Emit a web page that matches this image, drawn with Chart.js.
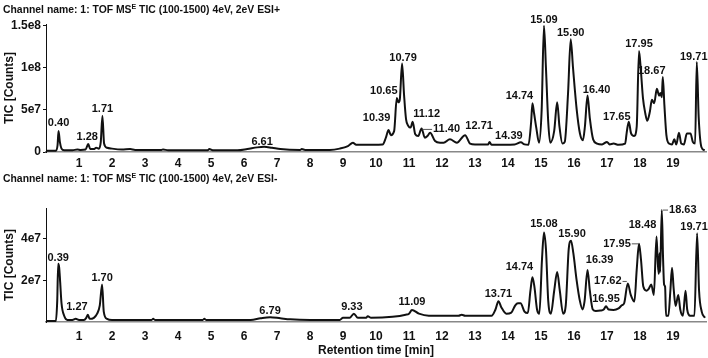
<!DOCTYPE html>
<html>
<head>
<meta charset="utf-8">
<script src="https://cdn.jsdelivr.net/npm/chart.js@4.4.0/dist/chart.umd.min.js"></script>
<style>
body{margin:0;background:#fff;width:708px;height:358px;overflow:hidden;position:relative;font-family:"Liberation Sans",Arial,sans-serif}
.box{position:absolute;left:0;width:708px}
.ttl{position:absolute;left:3px;font-weight:bold;font-size:10.4px;line-height:13px;color:#111;white-space:nowrap}
.ttl span{font-size:7px;vertical-align:4px}
</style>
</head>
<body>
<div class="box" style="top:0;height:172px"><canvas id="posChart"></canvas></div>
<div class="box" style="top:170px;height:188px"><canvas id="negChart"></canvas></div>
<div class="ttl" style="top:0">Channel name: 1: TOF MS<span>E</span> TIC (100-1500) 4eV, 2eV ESI+</div>
<div class="ttl" style="top:169px">Channel name: 1: TOF MS<span>E</span> TIC (100-1500) 4eV, 2eV ESI-</div>
<script>
// ESI+ trace, retention time [min] and TIC in millions of counts
var posTime = [
	0.03,0.30,0.35,0.38,0.42,0.47,0.55,0.80,0.95,1.05,
	1.20,1.28,1.34,1.45,1.52,1.60,1.66,1.71,1.76,1.85,
	2.00,2.30,2.55,2.70,3.50,3.55,3.70,4.90,4.95,5.05,
	5.80,6.10,6.40,6.61,6.85,7.10,7.70,7.75,7.85,8.60,
	8.90,9.15,9.30,9.40,9.55,10.20,10.30,10.38,10.45,10.55,
	10.63,10.68,10.72,10.79,10.85,10.91,10.98,11.05,11.11,11.19,
	11.28,11.38,11.48,11.56,11.64,11.79,11.94,12.05,12.24,12.45,
	12.70,12.85,13.00,13.40,13.44,13.50,14.20,14.39,14.50,14.62,
	14.70,14.74,14.79,14.86,14.94,15.02,15.09,15.15,15.22,15.28,
	15.40,15.49,15.56,15.65,15.72,15.82,15.90,15.97,16.08,16.18,
	16.27,16.33,16.41,16.48,16.58,16.70,16.85,17.00,17.08,17.20,
	17.35,17.55,17.60,17.66,17.73,17.82,17.90,17.97,18.03,18.09,
	18.16,18.22,18.30,18.36,18.43,18.51,18.58,18.62,18.66,18.69,
	18.74,18.80,18.88,18.97,19.04,19.10,19.18,19.25,19.33,19.42,
	19.53,19.60,19.67,19.72,19.78,19.86,19.96
];
var posTic = [
	1.5,1.5,8,25,12,4,2,2,3,2.5,
	3,9.5,3.5,3.5,5,4,12,43,10,5,
	4,3,3.5,2.5,2.5,3,2,2,3.5,2,
	2,3.5,5.5,6.2,5,3.5,2.5,3.5,2.5,2.5,
	4,7,11,8.5,8.5,9,17,26,20,25,
	64,59,62,105,68,39,31,29,36,21,
	19,28,17,19,23,13,11,11,15,11,
	20,10,9,9,12,8.5,9,11.5,9,8.5,
	35,58,46,28,11,50,150,100,35,11,
	25,59,30,10,12,70,134,100,51,22,
	14,30,67,40,15,10,9,12,9,10,
	8.5,10,24,36,22,19,30,120,95,64,
	46,37,48,62,58,75,67,70,65,89,
	55,20,10,9,15,9,23,10,9,22,
	22,12,10,107,40,6,2
];

// ESI- trace
var negTime = [
	0.03,0.30,0.34,0.37,0.40,0.43,0.47,0.55,0.65,0.80,
	0.90,1.00,1.15,1.22,1.27,1.32,1.45,1.55,1.63,1.70,
	1.75,1.85,2.00,3.20,3.25,3.30,4.75,4.80,4.85,6.20,
	6.50,6.79,7.10,7.40,8.00,8.90,9.00,9.20,9.33,9.45,
	9.70,9.75,9.85,10.50,10.90,11.00,11.09,11.30,11.60,12.50,
	12.60,12.70,13.50,13.62,13.71,13.80,13.95,14.10,14.22,14.30,
	14.38,14.50,14.60,14.68,14.74,14.80,14.88,14.95,15.03,15.09,
	15.15,15.22,15.30,15.40,15.49,15.57,15.67,15.75,15.84,15.91,
	15.98,16.08,16.18,16.26,16.32,16.41,16.48,16.57,16.66,16.80,
	16.90,16.97,17.05,17.20,17.35,17.45,17.52,17.63,17.72,17.83,
	17.90,17.97,18.03,18.10,18.20,18.27,18.34,18.42,18.50,18.54,
	18.57,18.59,18.61,18.66,18.70,18.73,18.76,18.79,18.86,18.92,
	18.97,19.02,19.08,19.16,19.22,19.30,19.38,19.43,19.52,19.65,
	19.73,19.79,19.87,19.97
];
var negTic = [
	0.5,0.5,10,28,26,19,9,3,1,1,
	1.5,1,1,2,3.5,1.5,2,4,8,18,
	5,1.5,1,1,1.5,1,1,1.5,1,1,
	1.8,2.3,1.8,1.3,1,1,2,2,4,2,
	2,2.8,2,2.5,3.5,4,5.8,4,3,3,
	3.5,3,3,6,10,7,4,4.5,8,9,
	9,5,4.3,15,21.5,17,6,4,30,43,
	35,10,4,15,24,15,4,8,35,39,
	33,20,10,6,10,25,15,6,5.3,5.5,
	6,7.5,6,5.8,6.5,8,9,18.5,13,9.8,
	25,37.5,30,17,15,16,18,13,41,28,
	23,33,24,53.7,30,18,17,3,3,15,
	26,16,7.7,13,6,3,15,6,3,3,
	42.6,15,5,2
];

// labelled peaks (retention times)
var posPeaks = [0.40,1.28,1.71,6.61,10.39,10.65,10.79,11.12,11.40,12.71,14.39,14.74,15.09,15.90,16.40,17.65,17.95,18.67,19.71];
var negPeaks = [0.39,1.27,1.70,6.79,9.33,11.09,13.71,14.74,15.08,15.90,16.39,16.95,17.62,17.95,18.48,18.63,19.71];

var xTickLabels = [1,2,3,4,5,6,7,8,9,10,11,12,13,14,15,16,17,18,19];
var posYTicks = [0, 5e7, 1e8, 1.5e8];
var posYTickLabels = ['0','5e7','1e8','1.5e8'];
var negYTicks = [2e7, 4e7];
var negYTickLabels = ['2e7','4e7'];

// label placement (px from the apex) and leader lines
var posLabelShift = [[0,-8],[-1,-7],[0,-7],[-2,-5],[-12,-12],[-13,-7],[1,-6],[14,-8],[25,1],[14,-9],[-12,-6],[-13,-7],[0,-6],[0,-6],[9,-6],[-12,-5],[0,-7],[-11,-6],[-3,-5]];
var posLeader = [8];
var negLabelShift = [[0,-6],[-11,-8],[0,-7],[0,-6],[-2,-7],[0,-8],[0,-7],[-13,-10],[0,-8],[1,-7],[12,-10],[0,-7],[-20,-2],[-22,0],[-14,-12],[21,0],[-3,-6]];
var negLeader = [12,13,15];

var FONT = '"Liberation Sans", Arial, sans-serif';
Chart.defaults.font.family = FONT;
Chart.defaults.font.weight = 'bold';
Chart.defaults.font.size = 11;
Chart.defaults.color = '#111';

function toPoints(t, v){
	var pts = [];
	for (var i = 0; i < t.length; i++) pts.push({x: t[i], y: v[i] * 1e6});
	return pts;
}

function peakLabels(times, vals, peaks, shift, leaders){
	return {
		id: 'peakLabels',
		afterDatasetsDraw: function(chart){
			var ctx = chart.ctx, xs = chart.scales.x, ys = chart.scales.y;
			ctx.save();
			ctx.font = 'bold 11px ' + FONT;
			ctx.fillStyle = '#111';
			ctx.textAlign = 'center';
			ctx.textBaseline = 'middle';
			for (var i = 0; i < peaks.length; i++){
				// apex = highest point close to the labelled time
				var best = -1;
				for (var j = 0; j < times.length; j++){
					if (Math.abs(times[j] - peaks[i]) <= 0.045 && (best < 0 || vals[j] > vals[best])) best = j;
				}
				var px = xs.getPixelForValue(times[best]);
				var py = ys.getPixelForValue(vals[best] * 1e6);
				var tx = px + shift[i][0], ty = py + shift[i][1];
				var txt = peaks[i].toFixed(2);
				ctx.fillText(txt, tx, ty);
				if (leaders.indexOf(i) >= 0){
					var w = ctx.measureText(txt).width / 2;
					ctx.strokeStyle = '#555';
					ctx.lineWidth = 1;
					ctx.beginPath();
					if (tx > px){ ctx.moveTo(px + 1, ty); ctx.lineTo(tx - w - 1, ty); }
					else { ctx.moveTo(tx + w + 1, ty); ctx.lineTo(px - 1, ty); }
					ctx.stroke();
				}
			}
			ctx.restore();
		}
	};
}

function makeChart(id, times, vals, peaks, shift, leaders, yMax, yTicks, yLabels, padTop, xHeight, xTickLen, showXTitle){
	return new Chart(document.getElementById(id), {
		type: 'line',
		data: {
			datasets: [{
				data: toPoints(times, vals),
				borderColor: '#111',
				borderWidth: 2,
				pointRadius: 0,
				fill: false,
				cubicInterpolationMode: 'monotone'
			}]
		},
		options: {
			responsive: true,
			maintainAspectRatio: false,
			animation: false,
			layout: {padding: {top: padTop, right: 2, left: 0, bottom: 0}},
			plugins: {legend: {display: false}, tooltip: {enabled: false}},
			scales: {
				x: {
					type: 'linear', min: 0, max: 20,
					afterFit: function(s){ s.height = xHeight; },
					afterBuildTicks: function(s){
						var t = [];
						for (var k = 0; k <= 20; k++) t.push({value: k});
						s.ticks = t;
					},
					ticks: {
						autoSkip: false, maxRotation: 0, padding: 2,
						font: {size: 12, weight: 'bold'},
						callback: function(v){
							return xTickLabels.indexOf(v) >= 0 ? String(v) : '';
						}
					},
					grid: {drawOnChartArea: false, tickLength: xTickLen, tickColor: 'rgba(0,0,0,0)'},
					border: {color: '#888', width: 1.5, dash: [1.5, 1.5]},
					title: {
						display: showXTitle, text: 'Retention time [min]',
						font: {size: 12, weight: 'bold'}, padding: {top: 0, bottom: 0}
					}
				},
				y: {
					min: 0, max: yMax,
					afterFit: function(s){ s.width = 46; },
					afterBuildTicks: function(s){
						s.ticks = yTicks.map(function(v){ return {value: v}; });
					},
					ticks: {
						padding: 2,
						font: {size: 12, weight: 'bold'},
						callback: function(v){
							var k = yTicks.indexOf(v);
							return k >= 0 ? yLabels[k] : '';
						}
					},
					grid: {drawOnChartArea: false, tickLength: 3, color: '#111'},
					border: {color: '#111', width: 1},
					title: {
						display: true, text: 'TIC [Counts]',
						font: {size: 12, weight: 'bold'}, padding: {top: 2, bottom: 0}
					}
				}
			}
		},
		plugins: [peakLabels(times, vals, peaks, shift, leaders)]
	});
}

makeChart('posChart', posTime, posTic, posPeaks, posLabelShift, posLeader, 1.52e8, posYTicks, posYTickLabels, 24, 20, 2, false);
makeChart('negChart', negTime, negTic, negPeaks, negLabelShift, negLeader, 5.47e7, negYTicks, negYTickLabels, 38, 36, 5, true);
</script>
</body>
</html>
